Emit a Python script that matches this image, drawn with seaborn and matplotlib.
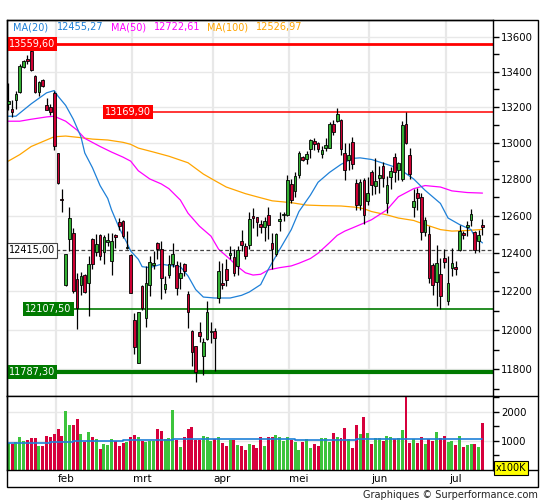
import numpy as np
import pandas as pd
import matplotlib
matplotlib.use("Agg")
import matplotlib.pyplot as plt
import seaborn as sns
from matplotlib.ticker import FixedLocator, NullFormatter, FuncFormatter, NullLocator
from matplotlib.lines import Line2D
from matplotlib.patches import Rectangle

# daily candles (index 0 = mid january)
opens = [13216, 13191, 13240, 13286, 13428, 13475, 13521, 13374, 13286, 13354,
         13214, 13200, 13280, 12943, 12690, 12235, 12477, 12509, 12266, 12235,
         12283, 12244, 12474, 12407, 12496, 12407, 12460, 12359, 12495, 12565,
         12570, 12430, 12390, 12052, 11833, 12230, 12060, 12235, 12336, 12456,
         12424, 12212, 12284, 12345, 12336, 12270, 12342, 12186, 11995, 11920,
         11992, 11867, 11952, 11992, 11996, 12165, 12244, 12315, 12390, 12378,
         12330, 12465, 12439, 12442, 12600, 12593, 12558, 12540, 12605, 12456,
         12395, 12570, 12605, 12605, 12773, 12733, 12821, 12920, 12907, 12964,
         13009, 13000, 12938, 12973, 12973, 13104, 13122, 13126, 12943, 12905,
         13006, 12780, 12658, 12795, 12681, 12836, 12759, 12805, 12871, 12667,
         12809, 12920, 12848, 12800, 13104, 12934, 12646, 12726, 12703, 12512,
         12500, 12336, 12248, 12292, 12377, 12148, 12324, 12329, 12418, 12509,
         12540, 12575, 12512, 12465, 12553]
highs = [13335, 13240, 13290, 13447, 13469, 13495, 13559.6, 13380, 13350, 13360,
         13250, 13218, 13293, 12945, 12747, 12398, 12650, 12535, 12297, 12300,
         12290, 12386, 12482, 12500, 12505, 12495, 12509, 12509, 12500, 12588,
         12575, 12521, 12395, 12087, 12095, 12232, 12330, 12386, 12412, 12461,
         12465, 12280, 12393, 12456, 12359, 12355, 12347, 12203, 12000, 11920,
         12043, 11958, 12148, 12043, 12012, 12360, 12350, 12368, 12440, 12424,
         12440, 12526, 12456, 12618, 12641, 12596, 12579, 12596, 12650, 12509,
         12508, 12623, 12623, 12823, 12800, 12836, 12952, 12925, 12952, 13020,
         13024, 13006, 12982, 13024, 13117, 13126, 13194, 13131, 12996, 12996,
         13032, 12800, 12800, 12805, 12809, 12848, 12916, 12871, 12893, 12814,
         12866, 12943, 12895, 13120, 13169.9, 12970, 12747, 12750, 12724, 12593,
         12544, 12351, 12442, 12377, 12421, 12386, 12430, 12359, 12553, 12518,
         12570, 12637, 12521, 12526, 12584]
lows = [13181, 13144, 13191, 13280, 13420, 13445, 13405, 13280, 13262, 13315,
        13181, 13153, 12961, 12775, 12618, 12230, 12412, 12192, 12003, 12183,
        12190, 12073, 12316, 12386, 12365, 12342, 12440, 12283, 12430, 12525,
        12480, 12420, 12190, 11875, 11830, 12105, 12017, 12173, 12316, 12368,
        12160, 12190, 12270, 12325, 12182, 12210, 12280, 12008, 11817, 11735,
        11940, 11770, 11950, 11933, 11793, 12140, 12212, 12228, 12368, 12280,
        12283, 12412, 12368, 12421, 12535, 12491, 12509, 12465, 12474, 12315,
        12386, 12518, 12570, 12600, 12667, 12703, 12804, 12900, 12880, 12916,
        12961, 12948, 12916, 12955, 12970, 13043, 13117, 12934, 12795, 12848,
        12854, 12632, 12632, 12555, 12658, 12712, 12720, 12724, 12756, 12614,
        12747, 12782, 12795, 12791, 12991, 12800, 12591, 12632, 12468, 12491,
        12244, 12183, 12122, 12107.5, 12324, 12130, 12280, 12283, 12412, 12474,
        12491, 12544, 12400, 12407, 12495]
closes = [13236, 13170, 13274, 13432, 13460, 13462, 13413, 13286, 13340, 13320,
          13185, 13172, 12979, 12779, 12685, 12395, 12588, 12200, 12113, 12280,
          12195, 12342, 12342, 12447, 12386, 12486, 12470, 12465, 12488, 12544,
          12491, 12435, 12190, 11913, 12092, 12113, 12244, 12356, 12350, 12421,
          12270, 12240, 12345, 12395, 12219, 12294, 12307, 12095, 11887, 11787.3,
          11967, 11940, 12095, 11997, 11958, 12305, 12235, 12260, 12400, 12298,
          12417, 12442, 12386, 12584, 12588, 12565, 12540, 12570, 12549, 12424,
          12505, 12582, 12612, 12796, 12685, 12818, 12941, 12902, 12938, 13013,
          12991, 12964, 12961, 12987, 13104, 13061, 13159, 12966, 12850, 12930,
          12880, 12658, 12782, 12605, 12724, 12768, 12788, 12823, 12805, 12766,
          12841, 12839, 12886, 13098, 12996, 12827, 12680, 12694, 12512, 12579,
          12271, 12235, 12351, 12174, 12354, 12241, 12351, 12319, 12518, 12495,
          12548, 12611, 12418, 12495, 12539]
# volume in units of 100K
volumes = [919, 895, 977, 1140, 1012, 1035, 1105, 1105, 837, 837,
           1175, 1140, 1233, 1419, 1175, 2047, 1558, 1558, 1768, 1244,
           977, 1314, 1140, 1070, 721, 884, 861, 1070, 1012, 837,
           930, 977, 1140, 1209, 1140, 1012, 977, 1012, 1012, 1419,
           1349, 1070, 1105, 2082, 1035, 802, 1128, 1419, 1489, 1035,
           1035, 1186, 1140, 1012, 1082, 1140, 930, 837, 1035, 1035,
           861, 837, 686, 895, 861, 756, 1140, 826, 1140, 1140,
           1209, 1140, 1000, 1140, 1035, 977, 686, 965, 1070, 756,
           895, 826, 1105, 1105, 977, 1279, 1140, 1105, 1454, 1070,
           756, 1558, 1244, 1838, 1279, 895, 1105, 1105, 1000, 1175,
           1140, 1070, 1105, 1384, 2650, 930, 1070, 930, 1140, 895,
           1070, 1000, 1314, 1105, 1175, 977, 1012, 861, 1175, 791,
           861, 895, 900, 791, 1628]

# moving averages (day index, value)
ma20_x = [0, 2, 6, 10, 12, 13, 15, 17, 19, 20, 22, 24, 26, 27, 29, 31, 32, 34, 35, 37,
          40, 42, 45, 47, 49, 51, 54, 58, 61, 63, 66, 68, 71, 74, 76, 79, 81, 84, 87, 90,
          92, 95, 99, 102, 106, 109, 113, 115, 118, 121, 122, 124]
ma20_y = [13148, 13148, 13218, 13280, 13293, 13261, 13209, 13131, 13033, 12943, 12862, 12764,
          12694, 12632, 12535, 12456, 12412, 12368, 12329, 12324, 12342, 12336, 12329, 12280,
          12209, 12170, 12165, 12165, 12179, 12196, 12235, 12315, 12421, 12526, 12623, 12712,
          12782, 12836, 12880, 12913, 12916, 12907, 12880, 12859, 12800, 12738, 12667, 12588,
          12553, 12526, 12488, 12455]
ma50_x = [0, 3, 6, 10, 12, 15, 18, 20, 24, 27, 30, 32, 34, 37, 40, 42, 45, 47, 50, 53,
          55, 58, 60, 62, 64, 66, 68, 71, 74, 76, 79, 81, 84, 86, 88, 90, 93, 95, 99, 102,
          106, 109, 113, 116, 120, 124]
ma50_y = [13120, 13120, 13131, 13144, 13148, 13120, 13070, 13024, 12979, 12948, 12920, 12898,
          12845, 12800, 12773, 12747, 12685, 12614, 12544, 12491, 12421, 12368, 12329, 12297,
          12285, 12289, 12312, 12324, 12333, 12347, 12372, 12400, 12456, 12495, 12518, 12535,
          12561, 12579, 12632, 12703, 12747, 12764, 12756, 12735, 12726, 12723]
ma100_x = [0, 3, 6, 10, 12, 15, 19, 22, 26, 30, 32, 34, 38, 42, 47, 51, 54, 57, 62, 65,
           69, 74, 78, 82, 87, 91, 93, 95, 99, 102, 106, 109, 113, 116, 120, 124]
ma100_y = [12898, 12934, 12979, 13015, 13033, 13037, 13028, 13020, 13015, 13002, 12991, 12970,
           12948, 12925, 12889, 12827, 12791, 12756, 12720, 12703, 12681, 12671, 12658, 12655,
           12653, 12646, 12638, 12623, 12605, 12588, 12575, 12553, 12526, 12518, 12521, 12527]
vol_ma_x = [0, 11, 17, 30, 43, 75, 77, 91, 124]
vol_ma_y = [919, 954, 989, 1023, 1082, 1047, 1023, 1070, 1070]

months = ["feb", "mrt", "apr", "mei", "jun", "jul"]
month_start = [13, 33, 54, 74, 95, 115]

price_ticks = [11800, 12000, 12200, 12400, 12600, 12800, 13000, 13200, 13400, 13600]
vol_ticks = [1000, 2000]

level_values = [13559.60, 13169.90, 12415.00, 12107.50, 11787.30]
level_text = ["13559,60", "13169,90", "12415,00", "12107,50", "11787,30"]

legend_names = ["MA(20)", "MA(50)", "MA(100)"]
legend_values = ["12455,27", "12722,61", "12526,97"]

GREEN = "#33b033"
RED = "#cc0033"
VGREEN = "#3cc43c"
VRED = "#d6003c"
BLUE = "#1e80d8"
MAGENTA = "#ff00ff"
ORANGE = "#ffa500"
DKGREEN = "#007a00"

sns.set_theme(style="white")
plt.rcParams["font.family"] = ["DejaVu Sans"]

W, H = 545, 500
fig = plt.figure(figsize=(W / 100, H / 100), dpi=100)
fig.patch.set_facecolor("white")

L, R = 6.5, 493
ax = fig.add_axes([L / W, (H - 396) / H, (R - L) / W, 376 / H])
axv = fig.add_axes([L / W, (H - 470) / H, (R - L) / W, 74 / H], sharex=ax)

df = pd.DataFrame({"o": opens, "h": highs, "l": lows, "c": closes, "v": volumes})
df["i"] = np.arange(len(df))
up = df["c"] >= df["o"]
xmin, xmax = -0.47, 126.75

# ---- price panel
ax.set_yscale("log")
ax.set_ylim(11666, 13700)
ax.set_xlim(xmin, xmax)

for m in month_start:
    ax.axvline(m - 0.6, color="#e8e8e8", lw=1.6, zorder=0)
    axv.axvline(m - 0.6, color="#e8e8e8", lw=1.6, zorder=0)
for t in price_ticks:
    ax.axhline(t, color="#e8e8e8", lw=1.0, zorder=0)

sns.lineplot(x=ma100_x, y=ma100_y, ax=ax, color=ORANGE, lw=0.9, zorder=2)
sns.lineplot(x=ma50_x, y=ma50_y, ax=ax, color=MAGENTA, lw=0.9, zorder=2)
sns.lineplot(x=ma20_x, y=ma20_y, ax=ax, color=BLUE, lw=0.9, zorder=2)

# level lines
ax.hlines(level_values[0], xmin, xmax, color="#ff0000", lw=2.0, zorder=2)
ax.hlines(level_values[1], 37.8, xmax, color="#ff0000", lw=1.1, zorder=2)
ax.hlines(level_values[2], 12.5, xmax, color="#444444", lw=0.9, linestyles=(0, (3, 2)), zorder=2)
ax.hlines(level_values[3], 16.2, xmax, color=DKGREEN, lw=1.2, zorder=2)
ax.hlines(level_values[4], xmin, xmax, color=DKGREEN, lw=3.0, zorder=2)

# candles
ax.vlines(df["i"], df["l"], df["h"], color="black", lw=0.9, zorder=3)
body = (df["c"] - df["o"]).abs().clip(lower=2)
ax.bar(df["i"], body, bottom=np.minimum(df["o"], df["c"]), width=0.7,
       color=np.where(up, GREEN, RED), edgecolor="black", lw=0.6, zorder=4)

# level tags
tag_x = [0.18, 25.3, 0.18, 4.4, 0.18]
tag_fc = ["#ff0000", "#ff0000", "white", DKGREEN, DKGREEN]
tag_tc = ["white", "white", "black", "white", "white"]
tag_ec = ["none", "none", "#444444", "none", "none"]
for x, v, s, fc, tc, ec in zip(tag_x, level_values, level_text, tag_fc, tag_tc, tag_ec):
    ax.text(x, v, s, fontsize=7, color=tc, ha="left", va="center", zorder=6,
            bbox=dict(boxstyle="square,pad=0.22", fc=fc, ec=ec, lw=0.8))

ax.yaxis.tick_right()
ax.yaxis.set_major_locator(FixedLocator(price_ticks))
ax.yaxis.set_major_formatter(FuncFormatter(lambda v, p: f"{v:.0f}"))
ax.yaxis.set_minor_locator(FixedLocator([t + 100 for t in price_ticks[:-1]] + [11700]))
ax.yaxis.set_minor_formatter(NullFormatter())
ax.tick_params(axis="y", which="both", direction="out", length=4, width=1,
               color="black", labelsize=7.3, pad=2, labelcolor="black", right=True, left=False)
ax.xaxis.set_major_locator(NullLocator())
ax.set_ylabel("")
ax.set_xlabel("")

# ---- volume panel
axv.set_ylim(0, 2550)
for t in vol_ticks:
    axv.axhline(t, color="#e8e8e8", lw=1.0, zorder=0)
axv.bar(df["i"], df["v"], width=0.78, color=np.where(up, VGREEN, VRED), lw=0, zorder=2)
sns.lineplot(x=vol_ma_x, y=vol_ma_y, ax=axv, color=BLUE, lw=1.2, drawstyle="steps-post", zorder=3)
axv.yaxis.tick_right()
axv.yaxis.set_major_locator(FixedLocator(vol_ticks))
axv.yaxis.set_minor_locator(FixedLocator([500, 1500, 2500]))
axv.yaxis.set_minor_formatter(NullFormatter())
axv.tick_params(axis="y", which="both", direction="out", length=4, width=1,
                color="black", labelsize=7.3, pad=2, labelcolor="black", right=True, left=False)
axv.tick_params(axis="x", which="both", bottom=False, labelbottom=False)
axv.set_xlim(xmin, xmax)
axv.set_ylabel("")
axv.set_xlabel("")

for a in (ax, axv):
    for sp in a.spines.values():
        sp.set_color("black")
        sp.set_linewidth(1.0)

# month labels under volume panel
for m, name in zip(month_start, months):
    axv.text(m + 2.0, -0.12, name, transform=axv.get_xaxis_transform(),
             ha="center", va="center", fontsize=7.5, color="black")

# outer frame and separators
fig.add_artist(Rectangle((L / W, (H - 486.5) / H), (538 - L) / W, (486.5 - 20) / H,
                         fill=False, ec="black", lw=1.0, transform=fig.transFigure))
for yy in (396, 470):
    fig.add_artist(Line2D([R / W, 538 / W], [(H - yy) / H, (H - yy) / H],
                          color="black", lw=1.0, transform=fig.transFigure))

# legend row
leg_x = [13.2, 57.4, 110.5, 154.3, 206.8, 256.0]
leg_c = [BLUE, BLUE, MAGENTA, MAGENTA, ORANGE, ORANGE]
leg_s = [legend_names[0], legend_values[0], legend_names[1], legend_values[1],
         legend_names[2], legend_values[2]]
for x, s, c in zip(leg_x, leg_s, leg_c):
    fig.text(x / W, (H - 27) / H, s, color=c, fontsize=7, ha="left", va="center")

fig.text(511 / W, (H - 468) / H, "x100K", fontsize=7, ha="center", va="center", color="black",
         bbox=dict(boxstyle="square,pad=0.2", fc="#ffff00", ec="black", lw=0.8))
fig.text(538 / W, (H - 495) / H, "Graphiques \u00a9 Surperformance.com", fontsize=7,
         ha="right", va="center", color="#222222")

fig.savefig("out.png", dpi=100)
